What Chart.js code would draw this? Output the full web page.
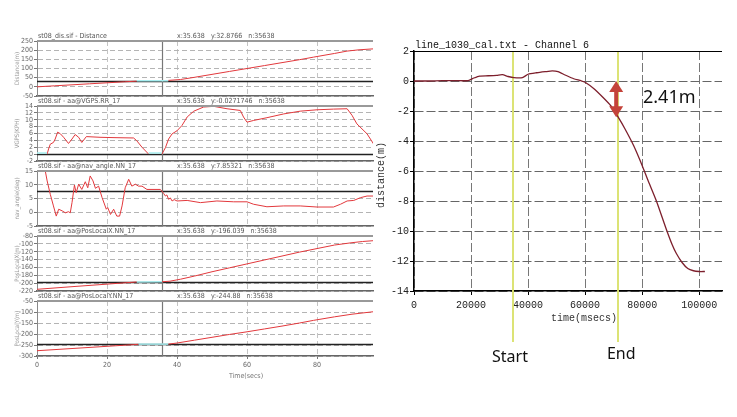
<!DOCTYPE html>
<html><head><meta charset="utf-8">
<script src="https://cdn.jsdelivr.net/npm/chart.js@4.4.1/dist/chart.umd.min.js"></script>
<style>
html,body{margin:0;padding:0;background:#fff;width:737px;height:417px;overflow:hidden}
body{position:relative}
canvas{position:absolute}
</style></head><body>
<canvas id="p1" width="380" height="72" style="left:0;top:30px"></canvas>
<canvas id="p2" width="380" height="72" style="left:0;top:95px"></canvas>
<canvas id="p3" width="380" height="72" style="left:0;top:160px"></canvas>
<canvas id="p4" width="380" height="72" style="left:0;top:225px"></canvas>
<canvas id="p5" width="380" height="100" style="left:0;top:290px"></canvas>
<canvas id="rc" width="365" height="417" style="left:372px;top:0"></canvas>
<script>
// ---------- Left panels (time in secs) ----------
const cursorTime = 35.638;
const leftXTicks = [0, 20, 40, 60, 80];

const distTicks = [-50, 0, 50, 100, 150, 200, 250];
const distT1 = [0, 5, 10, 15, 20, 25, 28.5];
const distV1 = [0, 5.5, 11, 16.5, 22, 27.5, 31];
const distGapT = [28.5, 37.5];
const distGapV = [33, 33];
const distT2 = [37.5, 41, 45, 50, 55, 60, 65, 70, 75, 79, 85, 88.6, 92, 96];
const distV2 = [35, 40, 52, 68, 84, 100, 116, 132, 148, 162, 182, 195, 202, 207];
const distCursorY = 32.8766;

const vgpsTicks = [-2, 0, 2, 4, 6, 8, 10, 12, 14];
const vgpsT1 = [2.9, 3.3, 3.8, 4.7, 5.2, 5.9, 6.7, 7.6, 9.0, 10.0, 10.9, 11.9, 12.8, 14.1, 18, 22, 27.6, 28.5, 30, 31.9];
const vgpsV1 = [0, 1.5, 2.9, 3.4, 4.4, 6.4, 5.9, 4.9, 3.1, 4.4, 5.7, 4.9, 3.4, 5.1, 4.9, 4.8, 4.7, 3.9, 2.0, 0];
const vgpsGapT = [0, 2.9, 2.9, 31.9, 35.6];
const vgpsGapV = [0.3, 0.3, null, 0.3, 0.3];
const vgpsT2 = [35.7, 36.7, 37.6, 38.6, 40, 41.4, 42.9, 44.8, 47.6, 50.5, 54.3, 58.1, 59.0, 60, 61.9, 65.7, 70.5, 75.2, 80, 84.7, 88.6, 90, 91.4, 94.3, 96.2];
const vgpsV2 = [0, 1.9, 4.4, 5.9, 6.8, 8.3, 10.8, 12.5, 13.7, 13.9, 13.2, 12.7, 10.8, 9.3, 9.8, 10.6, 11.7, 12.5, 12.9, 13.1, 13.2, 11.3, 8.8, 5.9, 2.9];
const vgpsCursorY = -0.0271746;

const navTicks = [-5, 0, 5, 10, 15];
const navT = [0, 2.4, 2.9, 3.8, 4.7, 5.5, 6.2, 7.2, 8.1, 9.0, 9.5, 10, 10.7, 11.2, 11.9, 12.8, 13.8, 14.5, 15.2, 16, 16.7, 17.6, 18.6, 19.8, 20.2, 21, 21.9, 22.8, 23.6, 24.3, 25.2, 26.2, 27.1, 28.1, 29, 30, 31.4, 35.2, 35.7, 36.2, 36.7, 37.1, 37.6, 38.1, 38.6, 39.2, 40, 42.9, 46.7, 51.4, 56.2, 60, 61.9, 65.7, 70.5, 75.2, 80, 84.7, 86.7, 88.6, 90.5, 92.4, 94.3, 96.2];
const navV = [15, 14.8, 11.4, 6.5, 2.3, -1.4, 1.1, 0.5, -0.2, 0.2, -0.2, 3.5, 9.9, 7.1, 10.2, 8.3, 11.1, 8.9, 13.2, 11.4, 8.7, 9.5, 5.3, 1.1, 1.7, -0.8, 1.1, -1.4, -1.4, 2.3, 8.9, 12, 9.5, 10.2, 9.5, 9.5, 8.3, 8.3, 7.7, 6.8, 5.9, 6.3, 4.7, 5.2, 4.1, 4.6, 4.1, 4.3, 3.5, 4.1, 3.8, 3.8, 2.9, 2.0, 2.3, 2.3, 1.9, 1.9, 2.9, 4.1, 4.3, 5.3, 5.9, 5.9];
const navCursorY = 7.85321;

const posxTicks = [-220, -200, -180, -160, -140, -120, -100, -80];
const posxT1 = [0, 10, 20, 28.5];
const posxV1 = [-215.7, -209, -202.5, -197];
const posxGapT = [28.5, 35.7];
const posxGapV = [-197, -196.5];
const posxT2 = [35.7, 38, 41, 45, 50, 55, 60, 65, 70, 75, 80, 85, 90, 93, 96];
const posxV2 = [-196.5, -195, -190, -182, -171, -161, -151, -141, -131, -121, -112, -103, -97, -94, -92];
const posxCursorY = -196.039;

const posyTicks = [-300, -250, -200, -150, -100, -50];
const posyT1 = [0, 10, 20, 29];
const posyV1 = [-276, -266, -256, -247];
const posyGapT = [29, 37.5];
const posyGapV = [-246, -246];
const posyT2 = [37.5, 40, 45, 50, 55, 60, 65, 70, 75, 79, 85, 90, 96];
const posyV2 = [-246, -241, -228, -215, -202, -190, -177, -164, -150, -138, -122, -110, -99];
const posyCursorY = -244.88;

// ---------- Right chart (time in msecs) ----------
const rightXTicks = [0, 20000, 40000, 60000, 80000, 100000];
const rightYTicks = [-14, -12, -10, -8, -6, -4, -2, 0, 2];
const rightT = [0, 5000, 10000, 15000, 19000, 21000, 23000, 26000, 29000, 31000, 33000, 35000, 38000, 40000, 43000, 46000, 48500, 50500, 53000, 56000, 58500, 60000, 63000, 66300, 69000, 71600, 74000, 77000, 79500, 82000, 85000, 88500, 90500, 92000, 94000, 96000, 98000, 100000, 102000];
const rightV = [0, 0.0, 0.02, 0.02, 0.03, 0.2, 0.33, 0.35, 0.38, 0.42, 0.3, 0.22, 0.22, 0.45, 0.55, 0.62, 0.67, 0.62, 0.4, 0.15, 0.02, -0.08, -0.5, -1.1, -1.65, -2.41, -3.2, -4.3, -5.4, -6.6, -8.0, -9.9, -10.9, -11.5, -12.1, -12.5, -12.65, -12.7, -12.7];
const startTime = 34700;
const endTime = 71600;
const dropValue = 2.41;

// ---------- helpers ----------
const pts = (t, v) => t.map((x, i) => ({x: x, y: v[i]}));
const setTicks = arr => (s => { s.ticks = arr.map(v => ({value: v})); });
const RED = '#e2383c', CYAN = '#a8eef0';
const smallFont = '"Liberation Sans Narrow", "DejaVu Sans Condensed", sans-serif';

function leftPanel(id, cfg) {
  const last = !!cfg.last;
  const deco = {
    id: 'deco' + id,
    beforeDatasetsDraw(chart) {
      const {ctx, chartArea: a, scales: {x, y}} = chart;
      ctx.save();
      const cy = Math.round(y.getPixelForValue(cfg.cursorY)) + 0.5;
      ctx.strokeStyle = '#222'; ctx.lineWidth = 1.5;
      ctx.beginPath(); ctx.moveTo(a.left, cy); ctx.lineTo(a.right, cy); ctx.stroke();
      const cx = Math.round(x.getPixelForValue(cursorTime)) + 0.5;
      ctx.strokeStyle = '#777'; ctx.lineWidth = 1.2;
      ctx.beginPath(); ctx.moveTo(cx, a.top); ctx.lineTo(cx, a.bottom); ctx.stroke();
      ctx.restore();
    },
    afterDraw(chart) {
      const {ctx, chartArea: a, scales: {x}} = chart;
      ctx.save();
      ctx.strokeStyle = '#999'; ctx.lineWidth = 2;
      ctx.beginPath(); ctx.moveTo(a.left, a.top); ctx.lineTo(a.right, a.top); ctx.stroke();
      ctx.fillStyle = '#555';
      ctx.font = '7px ' + smallFont;
      ctx.textBaseline = 'middle';
      ctx.fillText(cfg.title, 38, a.top - 5);
      ctx.fillText(cfg.info, x.getPixelForValue(40), a.top - 5);
      ctx.save();
      ctx.translate(17, (a.top + a.bottom) / 2);
      ctx.rotate(-Math.PI / 2);
      ctx.textAlign = 'center';
      ctx.fillStyle = '#999';
      ctx.font = '6px ' + smallFont;
      ctx.fillText(cfg.ylabel, 0, 0);
      ctx.restore();
      if (last) {
        ctx.textAlign = 'center';
        ctx.fillStyle = '#777';
        ctx.font = '7px ' + smallFont;
        ctx.fillText('Time(secs)', 246, 86);
      }
      ctx.restore();
    }
  };
  return new Chart(document.getElementById(id), {
    type: 'line',
    data: {datasets: cfg.datasets},
    options: {
      responsive: false, animation: false, events: [],
      layout: {padding: {top: 11, left: 0, right: 7, bottom: last ? 0 : 6}},
      plugins: {legend: {display: false}, tooltip: {enabled: false}, title: {display: false}},
      elements: {point: {radius: 0}, line: {tension: 0, borderWidth: 1}},
      scales: {
        x: {
          type: 'linear', min: 0, max: 96,
          afterBuildTicks: setTicks(leftXTicks),
          ticks: {display: last, autoSkip: false, color: '#666', font: {size: 7, family: smallFont}, padding: 2, maxRotation: 0},
          grid: {color: '#c4c4c4', drawTicks: last, tickLength: 3, tickColor: '#777', tickBorderDash: []},
          border: {color: '#666', width: 1.5, dash: [5, 3]},
          afterFit(s) { s.height = last ? 34 : 0; }
        },
        y: {
          min: cfg.yMin, max: cfg.yMax,
          afterBuildTicks: setTicks(cfg.yTicks),
          ticks: {autoSkip: false, color: '#666', font: {size: 7, family: smallFont}, padding: 1},
          grid: {color: '#b4b4b4', tickLength: 3, tickColor: '#777', tickBorderDash: []},
          border: {color: '#888', width: 1, dash: [5, 3]},
          afterFit(s) { s.width = 37; }
        }
      }
    },
    plugins: [deco]
  });
}

function seg(t, v, color, w) {
  return {data: pts(t, v), borderColor: color, borderWidth: w || 1, spanGaps: false};
}

leftPanel('p1', {
  yMin: -50, yMax: 250, yTicks: distTicks, cursorY: distCursorY, ylabel: 'Distance(m)',
  title: 'st08_dis.sif - Distance', info: 'x:35.638   y:32.8766   n:35638',
  datasets: [seg(distGapT, distGapV, CYAN, 1.5), seg(distT1, distV1, RED), seg(distT2, distV2, RED)]
});
leftPanel('p2', {
  yMin: -2, yMax: 14, yTicks: vgpsTicks, cursorY: vgpsCursorY, ylabel: 'VGPS(KPH)',
  title: 'st08.sif - aa@VGPS.RR_17', info: 'x:35.638   y:-0.0271746   n:35638',
  datasets: [seg(vgpsGapT, vgpsGapV, CYAN, 1.5), seg(vgpsT1, vgpsV1, RED), seg(vgpsT2, vgpsV2, RED)]
});
leftPanel('p3', {
  yMin: -5, yMax: 15, yTicks: navTicks, cursorY: navCursorY, ylabel: 'nav_angle(deg)',
  title: 'st08.sif - aa@nav_angle.NN_17', info: 'x:35.638   y:7.85321   n:35638',
  datasets: [seg(navT, navV, RED)]
});
leftPanel('p4', {
  yMin: -220, yMax: -80, yTicks: posxTicks, cursorY: posxCursorY, ylabel: 'PosLocalX(m)',
  title: 'st08.sif - aa@PosLocalX.NN_17', info: 'x:35.638   y:-196.039   n:35638',
  datasets: [seg(posxGapT, posxGapV, CYAN, 1.5), seg(posxT1, posxV1, RED), seg(posxT2, posxV2, RED)]
});
leftPanel('p5', {
  last: true,
  yMin: -300, yMax: -50, yTicks: posyTicks, cursorY: posyCursorY, ylabel: 'PosLocalY(m)',
  title: 'st08.sif - aa@PosLocalY.NN_17', info: 'x:35.638   y:-244.88   n:35638',
  datasets: [seg(posyGapT, posyGapV, CYAN, 1.5), seg(posyT1, posyV1, RED), seg(posyT2, posyV2, RED)]
});

// ---------- Right chart ----------
const mono = '"Liberation Mono", "DejaVu Sans Mono", monospace';
const OX = 372; // canvas page offset
const rightDeco = {
  id: 'rightDeco',
  beforeDatasetsDraw(chart) {
    const {ctx, chartArea: a, scales: {x}} = chart;
    ctx.save();
    ctx.strokeStyle = 'rgba(218,226,110,0.95)'; ctx.lineWidth = 2;
    for (const t of [startTime, endTime]) {
      const px = Math.round(x.getPixelForValue(t));
      ctx.beginPath(); ctx.moveTo(px, a.top); ctx.lineTo(px, 342); ctx.stroke();
    }
    ctx.restore();
  },
  afterDraw(chart) {
    const {ctx, chartArea: a, scales: {x, y}} = chart;
    ctx.save();
    ctx.strokeStyle = '#000'; ctx.lineWidth = 1;
    ctx.beginPath(); ctx.moveTo(a.left, Math.round(a.top) + 0.5); ctx.lineTo(a.right, Math.round(a.top) + 0.5); ctx.stroke();
    ctx.fillStyle = '#111'; ctx.font = '10px ' + mono; ctx.textBaseline = 'middle';
    ctx.fillText('line_1030_cal.txt - Channel 6', 415 - OX, 45);
    ctx.fillStyle = '#333';
    ctx.textAlign = 'center';
    ctx.fillText('time(msecs)', 584 - OX, 318);
    ctx.save();
    ctx.translate(381 - OX, 175); ctx.rotate(-Math.PI / 2);
    ctx.fillText('distance(m)', 0, 0);
    ctx.restore();
    const ax = x.getPixelForValue(endTime) - 2;
    const y0 = y.getPixelForValue(0), y1 = y.getPixelForValue(-dropValue);
    ctx.strokeStyle = '#c4433a'; ctx.fillStyle = '#c4433a'; ctx.lineWidth = 4;
    ctx.beginPath(); ctx.moveTo(ax, y0 + 8); ctx.lineTo(ax, y1 - 8); ctx.stroke();
    ctx.beginPath(); ctx.moveTo(ax, y0); ctx.lineTo(ax - 7, y0 + 11); ctx.lineTo(ax + 7, y0 + 11); ctx.closePath(); ctx.fill();
    ctx.beginPath(); ctx.moveTo(ax, y1); ctx.lineTo(ax - 7, y1 - 11); ctx.lineTo(ax + 7, y1 - 11); ctx.closePath(); ctx.fill();
    ctx.fillStyle = '#111';
    ctx.textAlign = 'left';
    ctx.font = '18px "Noto Sans", sans-serif';
    ctx.fillText(dropValue.toFixed(2) + 'm', 643 - OX, 98);
    ctx.textAlign = 'center';
    ctx.font = '16px "Noto Sans", sans-serif';
    ctx.fillText('Start', x.getPixelForValue(startTime) - 3, 357);
    ctx.fillText('End', x.getPixelForValue(endTime) + 3, 354);
    ctx.restore();
  }
};

new Chart(document.getElementById('rc'), {
  type: 'line',
  data: {datasets: [{data: pts(rightT, rightV), borderColor: '#7d1f2c', borderWidth: 1.3}]},
  options: {
    responsive: false, animation: false, events: [],
    layout: {padding: {top: 51, left: 0, right: 15, bottom: 90}},
    plugins: {legend: {display: false}, tooltip: {enabled: false}},
    elements: {point: {radius: 0}, line: {tension: 0.2}},
    scales: {
      x: {
        type: 'linear', min: 0, max: 108000,
        afterBuildTicks: setTicks(rightXTicks),
        ticks: {autoSkip: false, color: '#222', font: {size: 10, family: mono}, padding: 4, maxRotation: 0, callback: v => String(v)},
        grid: {color: '#777', tickLength: 4, tickColor: '#000', tickBorderDash: []},
        border: {color: '#000', width: 1.5, dash: [9, 3]},
        afterFit(s) { s.height = 36; }
      },
      y: {
        min: -14, max: 2,
        afterBuildTicks: setTicks(rightYTicks),
        ticks: {autoSkip: false, color: '#222', font: {size: 10, family: mono}, padding: 1},
        grid: {color: '#666', tickLength: 4, tickColor: '#000', tickBorderDash: []},
        border: {color: '#000', width: 1.5, dash: [9, 3]},
        afterFit(s) { s.width = 42; }
      }
    }
  },
  plugins: [rightDeco]
});
</script>
</body></html>
